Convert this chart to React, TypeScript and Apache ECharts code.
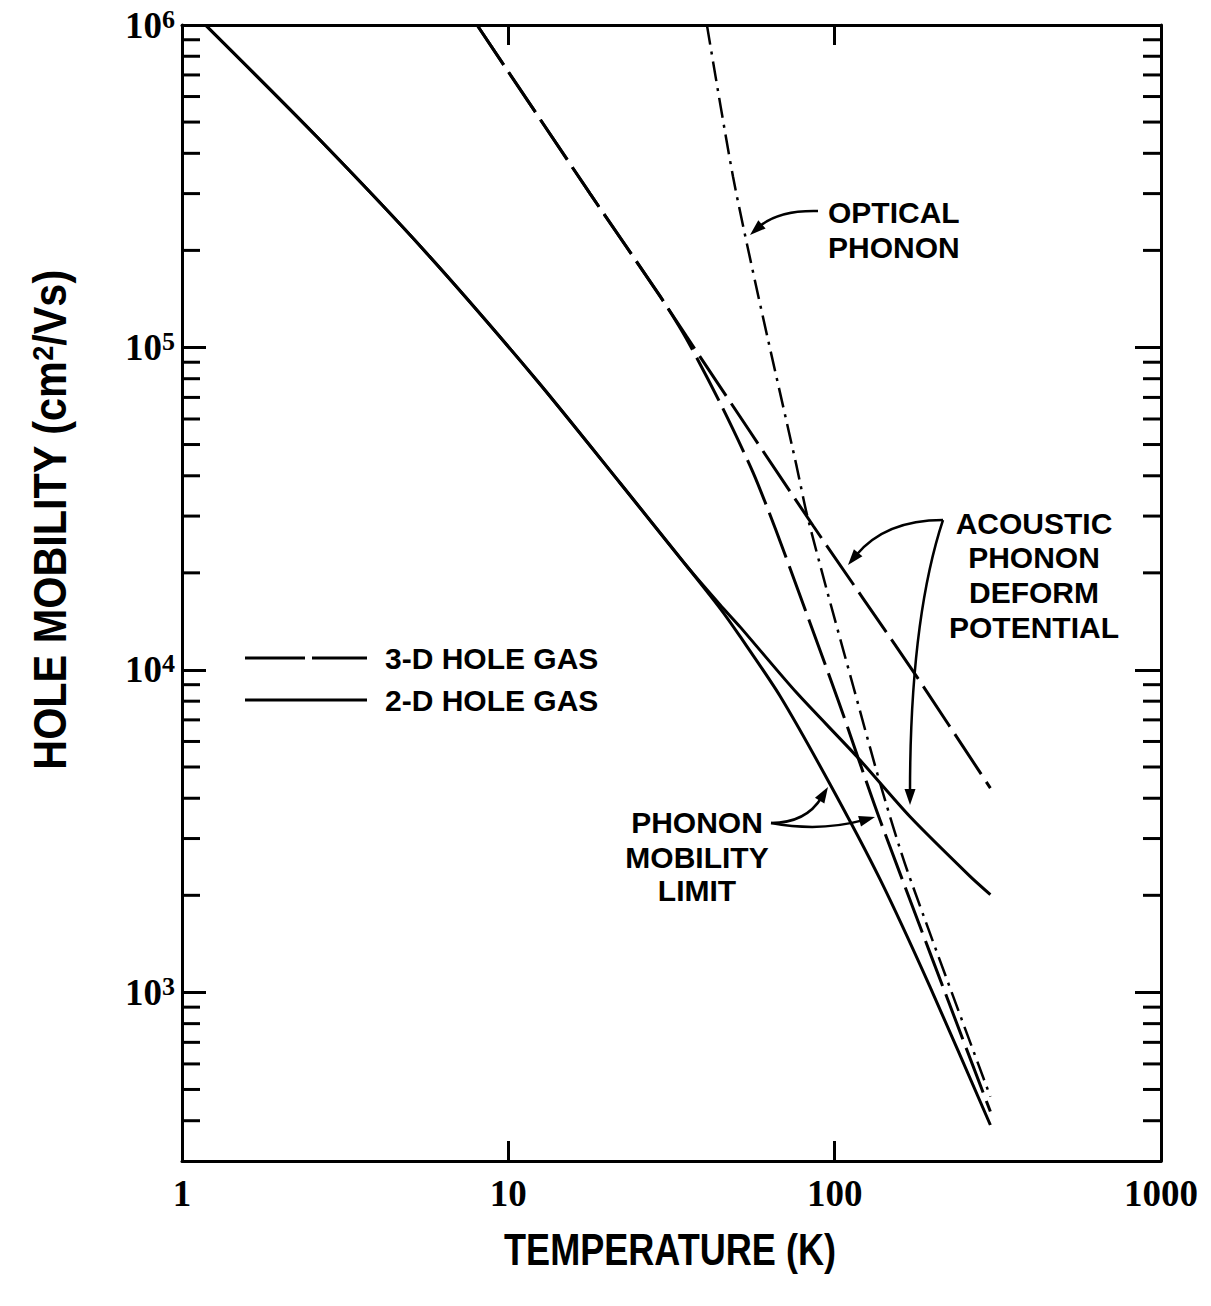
import React, { useEffect, useRef } from "react";
import * as echarts from "echarts";

// ---- axis ticks ----
const X_MIN = 1;
const X_MAX = 1000;
const Y_MIN = 300;
const Y_MAX = 1e6;
const Y_MINOR_TICKS = [
  400, 500, 600, 700, 800, 900,
  2000, 3000, 4000, 5000, 6000, 7000, 8000, 9000,
  20000, 30000, 40000, 50000, 60000, 70000, 80000, 90000,
  200000, 300000, 400000, 500000, 600000, 700000, 800000, 900000,
];

// ---- series data (T in K, mobility in cm^2/Vs) ----
const AC2D_T = [1.18, 2.59, 5.62, 12.2, 22.0, 35.2, 44.6, 51.3, 76.5, 116.9, 170, 260, 300];
const AC2D_MU = [1e6, 4.5e5, 1.96e5, 7.93e4, 3.8e4, 2.1e4, 1.59e4, 1.36e4, 8490, 5390, 3510, 2290, 2010];

const PL2D_T = [1.18, 2.59, 5.62, 12.2, 22.0, 35.2, 44.6, 51.3, 68, 96.8, 137.8, 196, 300];
const PL2D_MU = [1e6, 4.5e5, 1.96e5, 7.93e4, 3.8e4, 2.1e4, 1.55e4, 1.27e4, 8300, 4420, 2240, 1040, 388];

const AC3D_T = [8.02, 17.8, 29.2, 35.2, 85.9, 174, 300];
const AC3D_MU = [1e6, 3.0e5, 1.44e5, 1.08e5, 2.8e4, 9900, 4300];

const PL3D_T = [8.02, 17.8, 29.2, 35.2, 45, 56.2, 66, 77.2, 102.4, 137.6, 300];
const PL3D_MU = [1e6, 3.0e5, 1.44e5, 1.06e5, 6.6e4, 4.1e4, 2.72e4, 1.77e4, 8070, 3430, 427];

const OPT_T = [40.6, 48.8, 58.4, 76.5, 82, 94.6, 114.1, 137.7, 166.6, 300];
const OPT_MU = [1e6, 3.39e5, 1.437e5, 4.27e4, 3.07e4, 1.77e4, 8870, 4460, 2400, 475];

const zip = (xs: number[], ys: number[]) => xs.map((x, i) => [x, ys[i]]);

const SANS = "'Liberation Sans', Arial, Helvetica, sans-serif";
const SERIF = "'Liberation Serif', 'Times New Roman', serif";

function label(text: string, x: number, y: number, align = "center", size = 30, sx = 1) {
  return {
    type: "text",
    x,
    y,
    scaleX: sx,
    style: {
      text,
      fontSize: size,
      fontWeight: "bold",
      fontFamily: SANS,
      fill: "#000",
      align,
      verticalAlign: "middle",
    },
  };
}

function arrow(x1: number, y1: number, cx: number, cy: number, x2: number, y2: number) {
  const dx = x2 - cx;
  const dy = y2 - cy;
  const len = Math.hypot(dx, dy);
  const ux = dx / len;
  const uy = dy / len;
  const L = 16;
  const W = 5.5;
  const bx = x2 - ux * L;
  const by = y2 - uy * L;
  return [
    {
      type: "bezierCurve",
      shape: { x1, y1, x2: bx + ux * 4, y2: by + uy * 4, cpx1: cx, cpy1: cy },
      style: { stroke: "#000", lineWidth: 2.5, fill: "none" },
    },
    {
      type: "polygon",
      shape: {
        points: [
          [x2, y2],
          [bx - uy * W, by + ux * W],
          [bx + uy * W, by - ux * W],
        ],
      },
      style: { fill: "#000" },
    },
  ];
}

export default function App() {
  const ref = useRef<HTMLDivElement>(null);

  useEffect(() => {
    if (!ref.current) return;
    const chart = echarts.init(ref.current, undefined, { renderer: "svg" });

    const solid = { color: "#000", width: 3, type: "solid" };
    const dashed = { color: "#000", width: 3, type: [48, 9] };
    const dashDot = { color: "#000", width: 2.5, type: [20, 7, 3, 7] };

    const lineSeries = (name: string, data: number[][], lineStyle: any) => ({
      name,
      type: "line",
      data,
      showSymbol: false,
      symbol: "none",
      smooth: 0.25,
      lineStyle,
      silent: true,
      z: 3,
    });

    const axisLine = { show: true, lineStyle: { color: "#000", width: 3 } };

    const option: any = {
      animation: false,
      backgroundColor: "#fff",
      grid: { left: 182, right: 50, top: 25, bottom: 145 },
      xAxis: [
        {
          type: "log",
          logBase: 10,
          min: X_MIN,
          max: X_MAX,
          position: "bottom",
          axisLine,
          axisTick: { show: true, inside: true, length: 20, lineStyle: { color: "#000", width: 3 } },
          minorTick: { show: false },
          splitLine: { show: false },
          axisLabel: {
            show: true,
            margin: 14,
            color: "#000",
            fontFamily: SERIF,
            fontWeight: "bold",
            fontSize: 37,
            formatter: (v: number) => String(Math.round(v)),
          },
        },
        {
          type: "log",
          logBase: 10,
          min: X_MIN,
          max: X_MAX,
          position: "top",
          axisLine,
          axisTick: { show: true, inside: true, length: 20, lineStyle: { color: "#000", width: 3 } },
          splitLine: { show: false },
          axisLabel: { show: false },
        },
      ],
      yAxis: [
        {
          type: "log",
          logBase: 10,
          min: Y_MIN,
          max: Y_MAX,
          position: "left",
          axisLine,
          axisTick: { show: true, inside: true, length: 24, lineStyle: { color: "#000", width: 3 } },
          splitLine: { show: false },
          axisLabel: {
            show: true,
            margin: 7,
            showMinLabel: false,
            color: "#000",
            formatter: (v: number) => {
              const e = Math.log10(v);
              if (Math.abs(e - Math.round(e)) > 1e-6) return "";
              return "{b|10}{s|" + Math.round(e) + "}";
            },
            rich: {
              b: { fontFamily: SERIF, fontWeight: "bold", fontSize: 37, lineHeight: 38, color: "#000" },
              s: {
                fontFamily: SERIF,
                fontWeight: "bold",
                fontSize: 26,
                lineHeight: 26,
                verticalAlign: "top",
                color: "#000",
              },
            },
          },
        },
        {
          type: "log",
          logBase: 10,
          min: Y_MIN,
          max: Y_MAX,
          position: "right",
          axisLine,
          axisTick: { show: true, inside: true, length: 26, lineStyle: { color: "#000", width: 3 } },
          splitLine: { show: false },
          axisLabel: { show: false },
        },
      ],
      series: [
        {
          name: "minor ticks",
          type: "custom",
          coordinateSystem: "cartesian2d",
          xAxisIndex: 0,
          yAxisIndex: 0,
          silent: true,
          clip: false,
          data: Y_MINOR_TICKS.map((v) => [X_MIN, v]),
          renderItem: (_params: any, api: any) => {
            const v = api.value(1);
            const pL = api.coord([X_MIN, v]);
            const pR = api.coord([X_MAX, v]);
            return {
              type: "group",
              children: [
                {
                  type: "line",
                  shape: { x1: pL[0], y1: pL[1], x2: pL[0] + 18, y2: pL[1] },
                  style: { stroke: "#000", lineWidth: 3 },
                },
                {
                  type: "line",
                  shape: { x1: pR[0] - 18, y1: pR[1], x2: pR[0], y2: pR[1] },
                  style: { stroke: "#000", lineWidth: 3 },
                },
              ],
            };
          },
        },
        lineSeries("2-D acoustic phonon", zip(AC2D_T, AC2D_MU), solid),
        lineSeries("2-D phonon mobility limit", zip(PL2D_T, PL2D_MU), solid),
        lineSeries("3-D acoustic phonon", zip(AC3D_T, AC3D_MU), dashed),
        lineSeries("3-D phonon mobility limit", zip(PL3D_T, PL3D_MU), dashed),
        lineSeries("optical phonon", zip(OPT_T, OPT_MU), dashDot),
      ],
      graphic: {
        elements: [
          // axis titles
          {
            type: "text",
            x: 670,
            y: 1250,
            scaleX: 0.82,
            style: {
              text: "TEMPERATURE (K)",
              fontSize: 44,
              fontWeight: "bold",
              fontFamily: SANS,
              fill: "#000",
              align: "center",
              verticalAlign: "middle",
            },
          },
          {
            type: "text",
            x: 50,
            y: 520,
            rotation: Math.PI / 2,
            scaleX: 0.9,
            style: {
              text: "HOLE MOBILITY (cm{s|2}/Vs)",
              fontSize: 46,
              fontWeight: "bold",
              fontFamily: SANS,
              fill: "#000",
              align: "center",
              verticalAlign: "middle",
              rich: {
                s: { fontSize: 30, fontWeight: "bold", fontFamily: SANS, verticalAlign: "top", lineHeight: 30 },
              },
            },
          },
          // legend
          { type: "line", shape: { x1: 245, y1: 658, x2: 305, y2: 658 }, style: { stroke: "#000", lineWidth: 3 } },
          { type: "line", shape: { x1: 312, y1: 658, x2: 367, y2: 658 }, style: { stroke: "#000", lineWidth: 3 } },
          label("3-D HOLE GAS", 385, 658, "left", 30),
          { type: "line", shape: { x1: 245, y1: 700, x2: 367, y2: 700 }, style: { stroke: "#000", lineWidth: 3 } },
          label("2-D HOLE GAS", 385, 700, "left", 30),
          // annotations
          label("OPTICAL", 828, 212, "left", 30),
          label("PHONON", 828, 247, "left", 30),
          ...arrow(818, 211, 778, 210, 750, 235),
          label("ACOUSTIC", 1034, 523, "center", 30),
          label("PHONON", 1034, 557, "center", 30),
          label("DEFORM", 1034, 592, "center", 30),
          label("POTENTIAL", 1034, 627, "center", 30),
          ...arrow(943, 520, 885, 520, 848, 565),
          ...arrow(943, 520, 910, 620, 910, 805),
          label("PHONON", 697, 822, "center", 30),
          label("MOBILITY", 697, 857, "center", 30),
          label("LIMIT", 697, 890, "center", 30),
          ...arrow(771, 823, 806, 823, 828, 787),
          ...arrow(771, 823, 820, 832, 875, 817),
        ],
      },
    };

    chart.setOption(option);
    return () => chart.dispose();
  }, []);

  return (
    <div
      ref={ref}
      style={{ position: "absolute", left: 0, top: 0, width: 1211, height: 1306, background: "#fff" }}
    />
  );
}
